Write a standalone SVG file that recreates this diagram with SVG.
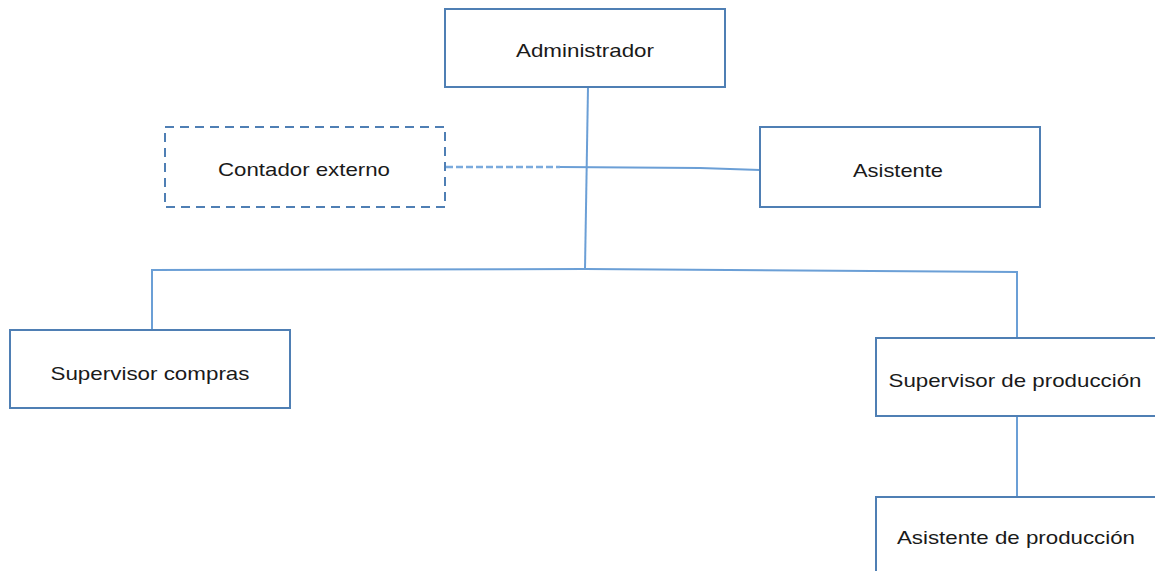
<svg xmlns="http://www.w3.org/2000/svg" width="1155" height="571" viewBox="0 0 1155 571">
  <style>
    .box { fill: #ffffff; stroke: #4f7fb4; stroke-width: 2; }
    .dashed { stroke-dasharray: 9 6; }
    .lbl { font-family: "Liberation Sans", Arial, sans-serif; font-size: 19px; fill: #1a1a1a; text-anchor: middle; }
    .wire { fill: none; stroke: #6b9fd6; stroke-width: 2; }
    .wire-dash { fill: none; stroke: #7aaadd; stroke-width: 2.5; stroke-dasharray: 7 3; }
  </style>
  <rect width="1155" height="571" fill="#ffffff"/>

  <g id="connectors">
    <path class="wire" d="M588 87 L585 269"/>
    <path class="wire-dash" d="M446 167 L560 167"/>
    <path class="wire" d="M560 167 L700 168 L760 170"/>
    <path class="wire" d="M152 330 L152 270 L585 269 L1017 272 L1017 338"/>
    <path class="wire" d="M1017 416 L1017 497"/>
  </g>

  <g id="administrador">
    <rect class="box" x="445" y="9" width="280" height="78"/>
    <text class="lbl" x="585" y="57" textLength="138" lengthAdjust="spacingAndGlyphs">Administrador</text>
  </g>
  <g id="contador-externo">
    <rect class="box dashed" x="165" y="127" width="280" height="80"/>
    <text class="lbl" x="304" y="176" textLength="172" lengthAdjust="spacingAndGlyphs">Contador externo</text>
  </g>
  <g id="asistente">
    <rect class="box" x="760" y="127" width="280" height="80"/>
    <text class="lbl" x="898" y="177" textLength="90" lengthAdjust="spacingAndGlyphs">Asistente</text>
  </g>
  <g id="supervisor-compras">
    <rect class="box" x="10" y="330" width="280" height="78"/>
    <text class="lbl" x="150" y="380" textLength="199" lengthAdjust="spacingAndGlyphs">Supervisor compras</text>
  </g>
  <g id="supervisor-produccion">
    <rect class="box" x="876" y="338" width="290" height="78"/>
    <text class="lbl" x="1015" y="387" textLength="253" lengthAdjust="spacingAndGlyphs">Supervisor de producción</text>
  </g>
  <g id="asistente-produccion">
    <rect class="box" x="876" y="497" width="290" height="90"/>
    <text class="lbl" x="1016" y="544" textLength="238" lengthAdjust="spacingAndGlyphs">Asistente de producción</text>
  </g>
</svg>
